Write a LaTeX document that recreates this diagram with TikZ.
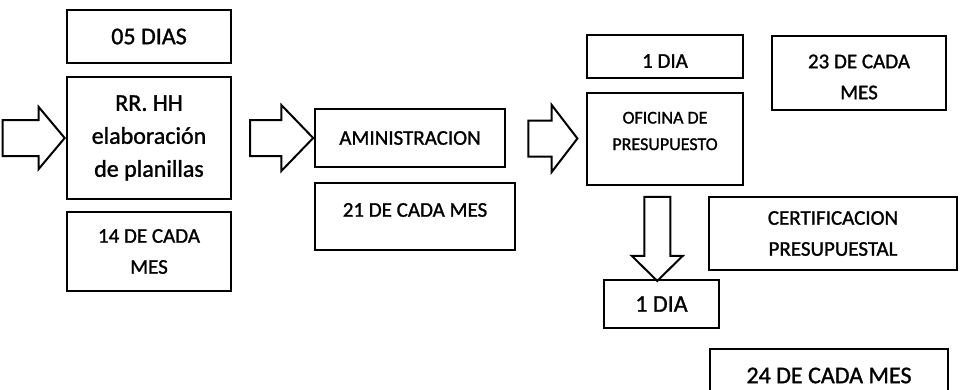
\documentclass[tikz,border=0pt]{standalone}
\usepackage{fontspec}
\setmainfont{Carlito}[UprightFeatures={FakeBold=1.2}]
\usetikzlibrary{shapes.arrows,calc}
\tikzset{
  letra/.style={font=\fontsize{21}{31}\selectfont},
  grande/.style={font=\fontsize{24}{33}\selectfont},
  chica/.style={font=\fontsize{18}{26.5}\selectfont},
  caja/.style={draw, line width=2pt, inner sep=0pt, align=center, letra},
  flecha/.style={draw, line width=2pt, single arrow, inner xsep=0pt, inner ysep=17pt},
}
\begin{document}
\begin{tikzpicture}[x=1pt,y=-1pt]
\clip[use as bounding box] (0,0) rectangle (963,389);
\node[caja,grande,minimum width=164,minimum height=53] (dias05) at (149,36.5) {05 DIAS};
\node[caja,grande,minimum width=164,minimum height=122] (rrhh) at (149,138) {RR. HH\\elaboración\\de planillas};
\node[caja,minimum width=164,minimum height=79] (mes14) at (149,251.5) {14 DE CADA\\MES};
\node[caja,minimum width=190,minimum height=58] (adm) at (410,138) {AMINISTRACION};
\node[caja,minimum width=200,minimum height=67] (mes21) at (415,216.5) {};
\node[letra] (tmes21) at (415,210) {21 DE CADA MES};
\node[caja,minimum width=156,minimum height=43] (dia1) at (665,56.5) {};
\node[letra] (tdia1) at (665,61) {1 DIA};
\node[caja,minimum width=156,minimum height=92] (ofi) at (665,139) {};
\node[chica,align=center] (tofi) at (665,131) {OFICINA DE\\PRESUPUESTO};
\node[caja,minimum width=174,minimum height=74] (mes23) at (859,73) {};
\node[letra,align=center] (tmes23) at (859,77) {23 DE CADA\\MES};
\node[caja,minimum width=248,minimum height=73] (cert) at (833,233.5) {CERTIFICACION\\PRESUPUESTAL};
\node[caja,grande,minimum width=115,minimum height=48] (dia2) at (661.5,304) {1 DIA};
\node[caja,grande,minimum width=238,minimum height=53] (mes24) at (829,375.5) {24 DE CADA MES};

\node[flecha,anchor=tip,minimum height=62,minimum width=60,single arrow head extend=13,single arrow tip angle=100] (f0) at (rrhh.west) {};
\node[flecha,minimum height=63,minimum width=64,single arrow head extend=15,single arrow tip angle=92] (f1) at ($(rrhh.east)!0.5!(adm.west)$) {};
\node[flecha,minimum height=49,minimum width=65,single arrow head extend=15.5,single arrow tip angle=105] (f2) at ($(adm.east)!0.5!(ofi.west)$) {};
\node[flecha,rotate=-90,inner ysep=12pt,minimum height=84,minimum width=49,single arrow head extend=12.5,single arrow tip angle=91] (f3) at ($(ofi.south)!0.5!(dia2.north)+(-6,0)$) {};
\end{tikzpicture}
\end{document}
